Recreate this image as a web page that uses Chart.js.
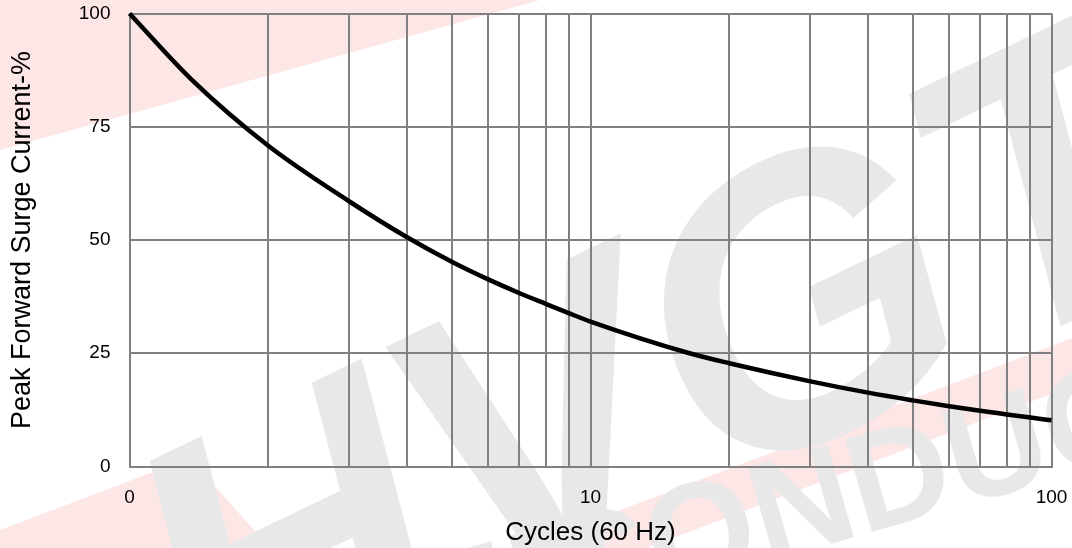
<!DOCTYPE html>
<html>
<head>
<meta charset="utf-8">
<script src="https://cdn.jsdelivr.net/npm/chart.js@4"></script>
<style>
  html, body { margin: 0; padding: 0; background: #fff; }
  #wrap { width: 1072px; height: 548px; }
</style>
</head>
<body>
<div id="wrap"><canvas id="surgeChart" width="1072" height="548"></canvas></div>
<script>
// Cycles at 60 Hz (log axis) and peak forward surge current in %
const cycles = [1, 1.36, 2, 3, 4, 5, 6, 7, 8, 9, 10, 16.4, 20, 30, 40, 50, 60, 70, 80, 90, 100];
const surgePct = [100, 85.5, 70.8, 58.5, 50.6, 45.2, 41.3, 38.3, 35.9, 33.8, 32, 25, 22.8, 18.8, 16.3, 14.6, 13.3, 12.3, 11.5, 10.8, 10.2];

// Grid positions on the x axis and the labels printed under them
const xGridValues = [1, 2, 3, 4, 5, 6, 7, 8, 9, 10, 20, 30, 40, 50, 60, 70, 80, 90, 100];
const xTickLabels = { 1: '0', 10: '10', 100: '100' };
const yTickValues = [0, 25, 50, 75, 100];

const gridColor = '#808080';
const fontFamily = '"Liberation Sans", Arial, sans-serif';

// Faint HVGT watermark behind the plot
const watermark = {
  id: 'watermark',
  beforeDraw(chart) {
    const ctx = chart.ctx;
    ctx.save();
    ctx.fillStyle = '#fde6e6';
    ctx.beginPath();
    ctx.moveTo(0, 0); ctx.lineTo(540, 0); ctx.lineTo(0, 150);
    ctx.fill();
    ctx.beginPath();
    ctx.moveTo(0, 530); ctx.lineTo(190, 458); ctx.lineTo(270, 548); ctx.lineTo(0, 548);
    ctx.fill();
    ctx.beginPath();
    ctx.moveTo(521, 548); ctx.lineTo(647, 548); ctx.lineTo(1072, 386); ctx.lineTo(1072, 338);
    ctx.fill();

    ctx.fillStyle = '#e8e8e8';
    ctx.translate(215, 735);
    ctx.rotate(-0.45);
    ctx.font = 'bold italic 400px ' + fontFamily;
    ctx.fillText('HVGT', 0, 0);
    ctx.restore();

    ctx.save();
    ctx.fillStyle = '#e8e8e8';
    ctx.translate(235, 715);
    ctx.rotate(-0.28);
    ctx.font = 'bold 140px ' + fontFamily;
    ctx.fillText('SEMICONDUCTOR', 0, 0);
    ctx.restore();
  }
};

new Chart(document.getElementById('surgeChart'), {
  type: 'line',
  data: {
    datasets: [{
      data: cycles.map((c, i) => ({ x: c, y: surgePct[i] })),
      borderColor: '#000',
      borderWidth: 4.5,
      pointRadius: 0,
      cubicInterpolationMode: 'monotone',
      fill: false,
      clip: 4
    }]
  },
  options: {
    responsive: false,
    animation: false,
    layout: { padding: { top: 13.5, right: 20.5, left: 0, bottom: 0 } },
    plugins: { legend: { display: false }, tooltip: { enabled: false } },
    scales: {
      x: {
        type: 'logarithmic',
        min: 1,
        max: 100,
        afterBuildTicks: scale => { scale.ticks = xGridValues.map(v => ({ value: v })); },
        afterFit: scale => {
          scale.height = 81.5;
          scale.paddingLeft = 0;
          scale.paddingRight = 0;
        },
        grid: { color: gridColor, lineWidth: 2, drawTicks: false },
        border: { color: gridColor, width: 2 },
        ticks: {
          autoSkip: false,
          maxRotation: 0,
          padding: 20,
          color: '#000',
          font: { family: fontFamily, size: 19 },
          callback: v => xTickLabels[v] || ''
        },
        title: {
          display: true,
          text: 'Cycles (60 Hz)',
          color: '#000',
          font: { family: fontFamily, size: 26 },
          padding: { top: 0, bottom: 0 }
        }
      },
      y: {
        min: 0,
        max: 100,
        afterBuildTicks: scale => { scale.ticks = yTickValues.map(v => ({ value: v })); },
        afterFit: scale => {
          scale.width = 129.5;
          scale.paddingTop = 0;
          scale.paddingBottom = 0;
        },
        grid: { color: gridColor, lineWidth: 2, drawTicks: false },
        border: { color: gridColor, width: 2 },
        ticks: {
          padding: 19,
          color: '#000',
          font: { family: fontFamily, size: 19 }
        },
        title: {
          display: true,
          text: 'Peak Forward Surge Current-%',
          color: '#000',
          font: { family: fontFamily, size: 27 },
          padding: { top: 6, bottom: 0 }
        }
      }
    }
  },
  plugins: [watermark]
});
</script>
</body>
</html>
